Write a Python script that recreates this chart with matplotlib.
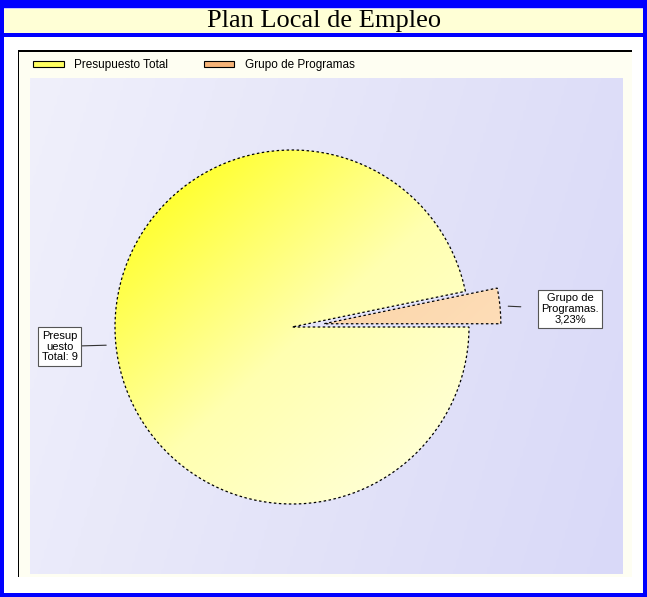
import numpy as np
import matplotlib.pyplot as plt
from matplotlib.patches import Rectangle
from matplotlib.colors import LinearSegmentedColormap

W, H = 647, 597

# data
categories = ["Presupuesto Total", "Grupo de Programas"]
values = [96.77, 3.23]
slice_labels = ["Presup\nuesto\nTotal: 9", "Grupo de\nProgramas.\n3,23%"]
title = "Plan Local de Empleo"

fig = plt.figure(figsize=(W / 100, H / 100), dpi=100)
fig.patch.set_facecolor("white")


def px(x0, y0, x1, y1):
    # pixel box (top-left origin) -> figure fraction [l, b, w, h]
    return [x0 / W, 1 - y1 / H, (x1 - x0) / W, (y1 - y0) / H]


def box(x0, y0, x1, y1, color, z=0):
    l, b, w, h = px(x0, y0, x1, y1)
    fig.patches.append(Rectangle((l, b), w, h, transform=fig.transFigure,
                                 facecolor=color, edgecolor="none", zorder=z))


# page frame
box(0, 0, W, H, "#0000ff")
box(4, 8, 643, 593, "white", 1)
box(4, 8, 643, 9, "#c8c8ff", 2)
box(4, 9, 643, 33, "#ffffd6", 2)
box(4, 33, 643, 37, "#0000ff", 2)

# chart frame with faint yellow tint and black top/left lines
box(18, 50, 632, 577, "#fefef2", 2)
box(18, 50, 632, 51.5, "black", 3)
box(17.5, 50, 19, 577, "black", 3)

fig.text(324 / W, 1 - 21 / H, title, ha="center", va="center",
         fontsize=19, family="Liberation Serif", color="black", zorder=4)

# plot area in pixel units
ax = fig.add_axes(px(30, 78, 623, 574))
ax.set_zorder(5)
cx, cy, r = 292, H - 327, 177

wedges, _ = ax.pie(values, startangle=values[1] / 100 * 360, radius=r,
                   center=(cx, cy), explode=[0, 32],
                   wedgeprops=dict(edgecolor="black", linewidth=0.9,
                                   linestyle=(0, (2, 2))))

# lavender background gradient
bx, by = np.meshgrid(np.linspace(0, 1, 200), np.linspace(0, 1, 200))
bg = LinearSegmentedColormap.from_list("bg", ["#f0f0fb", "#e4e4f9", "#d9d9f8"])
ax.imshow(0.8 * bx + 0.2 * by, cmap=bg, extent=(30, 623, H - 574, H - 78),
          origin="upper", aspect="auto", zorder=0, interpolation="bilinear")

# gradient fills clipped to the wedges
grads = [["#ffff00", "#ffffb0", "#ffffe8"], ["#f7c08a", "#fcd6aa", "#ffe6c8"]]
for w, cols in zip(wedges, grads):
    x0, y0, x1, y1 = cx - r - 5, cy - r - 5, cx + r + 45, cy + r + 5
    xx, yy = np.meshgrid(np.linspace(0, 1, 200), np.linspace(0, 1, 200))
    g = (xx + yy) / 2
    cm = LinearSegmentedColormap.from_list("g", cols)
    im = ax.imshow(g, cmap=cm, extent=(x0, x1, y0, y1), origin="upper",
                   aspect="auto", zorder=1, interpolation="bilinear")
    im.set_clip_path(w)
    w.set_facecolor("none")
    w.set_zorder(2)

ax.set_xlim(30, 623)
ax.set_ylim(H - 574, H - 78)
ax.set_aspect("equal")

# labels with leader lines
theta = np.cumsum([0] + values)
start = values[1] / 100 * 360
text_pos = [(59.5, H - 346.5), (570, H - 309)]
shrinks = [(0, 7), (12, 6)]
for i, (lab, pos) in enumerate(zip(slice_labels, text_pos)):
    mid = np.deg2rad(start + (theta[i] + theta[i + 1]) / 2 / 100 * 360)
    off = [0, 32][i]
    ex = cx + (off + r) * np.cos(mid)
    ey = cy + (off + r) * np.sin(mid)
    ax.annotate(lab, xy=(ex, ey), xytext=pos, ha="center", va="center",
                fontsize=8, family="Liberation Sans", linespacing=1.1,
                bbox=dict(boxstyle="square,pad=0.3", fc="white",
                          ec="#555555", lw=0.8),
                arrowprops=dict(arrowstyle="-", color="#333333", lw=0.8,
                                shrinkA=shrinks[i][0], shrinkB=shrinks[i][1]),
                zorder=5)

# legend
handles = [Rectangle((0, 0), 1, 1, facecolor=c, edgecolor="black", lw=0.8)
           for c in ["#ffff60", "#f6b478"]]
leg = fig.legend(handles, categories, loc="center left",
                 bbox_to_anchor=(33 / W, 1 - 65 / H), ncol=2, frameon=False,
                 borderpad=0, borderaxespad=0, handlelength=2.6,
                 handleheight=0.35, handletextpad=0.9, columnspacing=3.0,
                 prop=dict(family="Liberation Sans", size=8.5))
leg.set_zorder(6)

fig.savefig("out.png", dpi=100)
